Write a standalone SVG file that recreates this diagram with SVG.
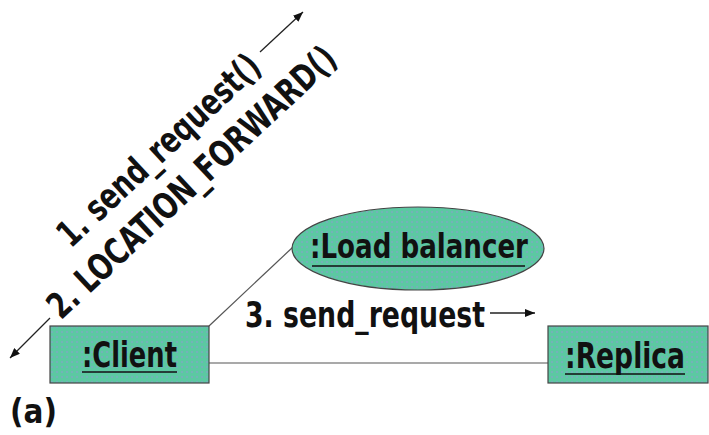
<svg xmlns="http://www.w3.org/2000/svg" width="709" height="435" viewBox="0 0 709 435">
  <defs>
    <pattern id="stipple" width="5" height="5" patternUnits="userSpaceOnUse">
      <rect width="5" height="5" fill="#5cc8a2"/>
      <rect x="1" y="1" width="2" height="2" fill="#7fa8c4" opacity="0.7"/>
    </pattern>
    <marker id="head" viewBox="0 0 10 8" refX="10" refY="4" markerWidth="10" markerHeight="8" markerUnits="userSpaceOnUse" orient="auto">
      <path d="M0,0 L10,4 L0,8 Z" fill="#111"/>
    </marker>
  </defs>
  <style>
    .obj { fill: url(#stipple); stroke: #444; stroke-width: 1.2; }
    .lbl { font-family: "Liberation Sans Narrow", "DejaVu Sans Condensed", "Liberation Sans", sans-serif; font-weight: bold; fill: #111; }
    .ul { stroke: #111; stroke-width: 1.6; }
    .conn { stroke: #555; stroke-width: 1.2; fill: none; }
    .msg { stroke: #222; stroke-width: 1.3; fill: none; marker-end: url(#head); }
  </style>

  <rect width="709" height="435" fill="#fff"/>

  <!-- links between objects -->
  <g id="connectors">
    <line class="conn" x1="209" y1="326" x2="293" y2="247"/>
    <line class="conn" x1="209" y1="363" x2="548" y2="363"/>
  </g>

  <!-- message arrows -->
  <g id="messages">
    <line class="msg" x1="260" y1="52" x2="303" y2="12"/>
    <line class="msg" x1="50" y1="318" x2="10" y2="358"/>
    <line class="msg" x1="490" y1="313" x2="535" y2="313"/>
    <g transform="translate(167,159) rotate(-43)">
      <text class="lbl" x="0" y="0" font-size="36" text-anchor="middle" textLength="263" lengthAdjust="spacingAndGlyphs">1. send_request()</text>
    </g>
    <g transform="translate(200,191) rotate(-43)">
      <text class="lbl" x="0" y="0" font-size="36" text-anchor="middle" textLength="380" lengthAdjust="spacingAndGlyphs">2. LOCATION_FORWARD()</text>
    </g>
    <text class="lbl" x="245" y="327" font-size="36" textLength="240" lengthAdjust="spacingAndGlyphs">3. send_request</text>
  </g>

  <g id="client">
    <rect class="obj" x="50" y="326" width="159" height="57"/>
    <text class="lbl" x="82" y="367" font-size="36" textLength="95" lengthAdjust="spacingAndGlyphs">:Client</text>
    <line class="ul" x1="82" y1="372" x2="177" y2="372"/>
  </g>

  <g id="load-balancer">
    <ellipse class="obj" cx="418" cy="248.5" rx="126" ry="41.5"/>
    <text class="lbl" x="310" y="258" font-size="33" textLength="218" lengthAdjust="spacingAndGlyphs">:Load balancer</text>
    <line class="ul" x1="312" y1="266" x2="525" y2="266"/>
  </g>

  <g id="replica">
    <rect class="obj" x="548" y="326" width="160" height="57"/>
    <text class="lbl" x="565" y="368" font-size="36" textLength="120" lengthAdjust="spacingAndGlyphs">:Replica</text>
    <line class="ul" x1="565" y1="374" x2="685" y2="374"/>
  </g>

  <text class="lbl" x="10" y="423" font-size="33" textLength="47" lengthAdjust="spacingAndGlyphs">(a)</text>
</svg>
